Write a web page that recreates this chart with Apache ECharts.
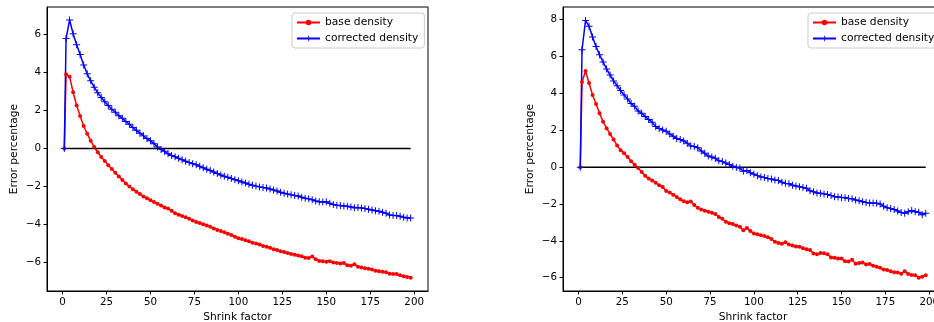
<!DOCTYPE html>
<html>
<head>
<meta charset="utf-8">
<script src="https://cdn.jsdelivr.net/npm/echarts@6/dist/echarts.min.js"></script>
<style>html,body{margin:0;padding:0;background:#fff;}#c{width:934px;height:322px;}</style>
</head>
<body>
<div id="c"></div>
<script>
var shrink = [1,2,4,6,8,10,12,14,16,18,
  20,22,24,26,28,30,32,34,36,38,
  40,42,44,46,48,50,52,54,56,58,
  60,62,64,66,68,70,72,74,76,78,
  80,82,84,86,88,90,92,94,96,98,
  100,102,104,106,108,110,112,114,116,118,
  120,122,124,126,128,130,132,134,136,138,
  140,142,144,146,148,150,152,154,156,158,
  160,162,164,166,168,170,172,174,176,178,
  180,182,184,186,188,190,192,194,196,198];

var baseA = [0,3.9,3.77,2.95,2.25,1.7,1.18,0.77,0.4,0.08,
  -0.2,-0.45,-0.66,-0.88,-1.08,-1.28,-1.47,-1.66,-1.84,-2.0,
  -2.14,-2.27,-2.4,-2.52,-2.62,-2.72,-2.82,-2.9,-3.0,-3.1,
  -3.15,-3.28,-3.4,-3.48,-3.55,-3.62,-3.7,-3.78,-3.86,-3.92,
  -3.98,-4.05,-4.12,-4.2,-4.28,-4.34,-4.41,-4.48,-4.55,-4.64,
  -4.72,-4.76,-4.82,-4.88,-4.96,-5.0,-5.05,-5.12,-5.17,-5.22,
  -5.3,-5.33,-5.4,-5.44,-5.5,-5.55,-5.58,-5.62,-5.66,-5.74,
  -5.76,-5.68,-5.82,-5.92,-5.93,-5.95,-5.93,-5.99,-6.02,-6.05,
  -6.02,-6.14,-6.16,-6.08,-6.22,-6.26,-6.3,-6.32,-6.36,-6.42,
  -6.45,-6.48,-6.5,-6.58,-6.6,-6.6,-6.66,-6.72,-6.76,-6.8];

var corrA = [0,5.77,6.75,6.02,5.45,4.93,4.38,3.92,3.55,3.22,
  2.92,2.68,2.45,2.25,2.06,1.9,1.72,1.58,1.42,1.27,
  1.1,0.95,0.8,0.66,0.52,0.4,0.25,0.08,-0.05,-0.15,
  -0.28,-0.37,-0.44,-0.52,-0.6,-0.67,-0.74,-0.8,-0.86,-0.94,
  -1.02,-1.09,-1.16,-1.24,-1.32,-1.4,-1.46,-1.52,-1.58,-1.64,
  -1.7,-1.76,-1.82,-1.88,-1.94,-1.98,-2.02,-2.05,-2.08,-2.13,
  -2.18,-2.24,-2.3,-2.36,-2.4,-2.44,-2.47,-2.5,-2.56,-2.62,
  -2.65,-2.7,-2.76,-2.8,-2.82,-2.8,-2.88,-2.95,-2.98,-3.0,
  -3.02,-3.04,-3.08,-3.12,-3.1,-3.13,-3.16,-3.2,-3.24,-3.27,
  -3.3,-3.35,-3.4,-3.5,-3.52,-3.53,-3.56,-3.62,-3.65,-3.65];

var baseB = [0,4.62,5.22,4.57,3.92,3.43,2.92,2.47,2.11,1.8,
  1.5,1.18,0.92,0.76,0.55,0.32,0.13,-0.04,-0.26,-0.46,
  -0.62,-0.72,-0.85,-0.98,-1.08,-1.3,-1.38,-1.5,-1.62,-1.74,
  -1.85,-1.9,-1.86,-2.06,-2.2,-2.3,-2.36,-2.42,-2.48,-2.54,
  -2.7,-2.8,-2.96,-3.04,-3.08,-3.16,-3.24,-3.42,-3.3,-3.46,
  -3.6,-3.64,-3.7,-3.74,-3.8,-3.9,-4.05,-4.12,-4.15,-4.08,
  -4.2,-4.25,-4.3,-4.32,-4.4,-4.46,-4.5,-4.68,-4.72,-4.66,
  -4.67,-4.72,-4.9,-4.92,-4.95,-4.96,-5.1,-5.12,-5.02,-5.24,
  -5.2,-5.18,-5.28,-5.25,-5.35,-5.4,-5.46,-5.55,-5.58,-5.65,
  -5.7,-5.72,-5.78,-5.65,-5.8,-5.85,-5.86,-6.0,-5.95,-5.86];

var corrB = [0,6.37,7.96,7.64,7.06,6.55,6.1,5.7,5.33,5.0,
  4.68,4.42,4.16,3.92,3.7,3.45,3.3,3.05,2.92,2.75,
  2.58,2.44,2.2,2.1,2.02,1.95,1.8,1.68,1.55,1.5,
  1.42,1.3,1.15,1.12,1.05,0.88,0.75,0.6,0.55,0.48,
  0.35,0.3,0.22,0.15,0.05,-0.02,-0.05,-0.22,-0.18,-0.3,
  -0.38,-0.46,-0.54,-0.56,-0.62,-0.64,-0.7,-0.72,-0.82,-0.88,
  -0.9,-0.98,-1.02,-1.06,-1.1,-1.14,-1.28,-1.34,-1.4,-1.42,
  -1.45,-1.48,-1.54,-1.6,-1.62,-1.64,-1.66,-1.7,-1.72,-1.78,
  -1.82,-1.88,-1.92,-1.95,-1.95,-1.96,-2.0,-2.12,-2.2,-2.25,
  -2.3,-2.38,-2.46,-2.5,-2.42,-2.35,-2.42,-2.45,-2.58,-2.5];

var zeroX = [1, 198];
var zeroY = [0, 0];

var xTicks = [0,25,50,75,100,125,150,175,200];
var yTicksA = [-6,-4,-2,0,2,4,6];
var yTicksB = [-6,-4,-2,0,2,4,6,8];

var names = ['base density', 'corrected density'];
var xTitle = 'Shrink factor';
var yTitle = 'Error percentage';

var FONT = 'DejaVu Sans';
var TICK_FS = 10.3;
var TEXT_FS = 10.7;
var plusPath = 'path://M0,4.3H10V5.7H0Z M4.3,0H5.7V10H4.3Z';

function pairs(xs, ys) { return xs.map(function (x, i) { return [x, ys[i]]; }); }
function fmt(v) { return String(v).replace('-', '\u2212'); }

function xAxis(idx) {
  return {
    gridIndex: idx, type: 'value', min: -8.85, max: 207.85,
    name: xTitle, nameLocation: 'middle', nameGap: 21,
    nameTextStyle: { fontFamily: FONT, fontSize: TEXT_FS, color: '#000' },
    axisLine: { show: true, onZero: false, lineStyle: { color: '#000', width: 1 } },
    axisTick: { show: true, inside: false, length: 3.5, customValues: xTicks, lineStyle: { color: '#000', width: 1 } },
    axisLabel: { customValues: xTicks, margin: 6, fontFamily: FONT, fontSize: TICK_FS, color: '#000', formatter: fmt },
    splitLine: { show: false }
  };
}
function yAxis(idx, mn, mx, ticks) {
  return {
    gridIndex: idx, type: 'value', min: mn, max: mx,
    name: yTitle, nameLocation: 'middle', nameGap: 27,
    nameTextStyle: { fontFamily: FONT, fontSize: TEXT_FS, color: '#000' },
    axisLine: { show: true, onZero: false, lineStyle: { color: '#000', width: 1 } },
    axisTick: { show: true, inside: false, length: 3.5, customValues: ticks, lineStyle: { color: '#000', width: 1 } },
    axisLabel: { customValues: ticks, margin: 6, fontFamily: FONT, fontSize: TICK_FS, color: '#000', formatter: fmt },
    splitLine: { show: false }
  };
}
function legend(left) {
  return {
    orient: 'vertical', left: left, top: 13, data: names,
    itemWidth: 23, itemHeight: 7, itemGap: 5, padding: [4, 6, 4, 4],
    backgroundColor: 'rgba(255,255,255,0.8)', borderColor: '#ccc', borderWidth: 1, borderRadius: 3,
    textStyle: { fontFamily: FONT, fontSize: TEXT_FS, color: '#000' }
  };
}
function baseSeries(idx, ys) {
  return {
    name: names[0], type: 'line', xAxisIndex: idx, yAxisIndex: idx,
    data: pairs(shrink, ys), symbol: 'circle', symbolSize: 4,
    lineStyle: { color: '#ff0000', width: 1.5 },
    itemStyle: { color: '#ff0000', borderWidth: 0 }
  };
}
function corrSeries(idx, ys) {
  return {
    name: names[1], type: 'line', xAxisIndex: idx, yAxisIndex: idx,
    data: pairs(shrink, ys), symbol: plusPath, symbolSize: 7,
    lineStyle: { color: '#0000ff', width: 1.5 },
    itemStyle: { color: '#0000ff', borderWidth: 0 }
  };
}
function zeroSeries(idx) {
  return {
    type: 'line', xAxisIndex: idx, yAxisIndex: idx, data: pairs(zeroX, zeroY),
    symbol: 'none', lineStyle: { color: '#000', width: 1.5 }, silent: true
  };
}

var chart = echarts.init(document.getElementById('c'), null, { renderer: 'canvas' });
chart.setOption({
  animation: false,
  backgroundColor: '#fff',
  grid: [
    { left: 47, top: 7, width: 381, height: 284, outerBoundsMode: 'none', containLabel: false, show: true, borderColor: '#000', borderWidth: 1, backgroundColor: 'transparent' },
    { left: 563, top: 7, width: 380, height: 284, outerBoundsMode: 'none', containLabel: false, show: true, borderColor: '#000', borderWidth: 1, backgroundColor: 'transparent' }
  ],
  legend: [legend(292), legend(808)],
  xAxis: [xAxis(0), xAxis(1)],
  yAxis: [yAxis(0, -7.49, 7.43, yTicksA), yAxis(1, -6.72, 8.69, yTicksB)],
  series: [
    baseSeries(0, baseA), corrSeries(0, corrA), zeroSeries(0),
    baseSeries(1, baseB), corrSeries(1, corrB), zeroSeries(1)
  ]
});
</script>
</body>
</html>
